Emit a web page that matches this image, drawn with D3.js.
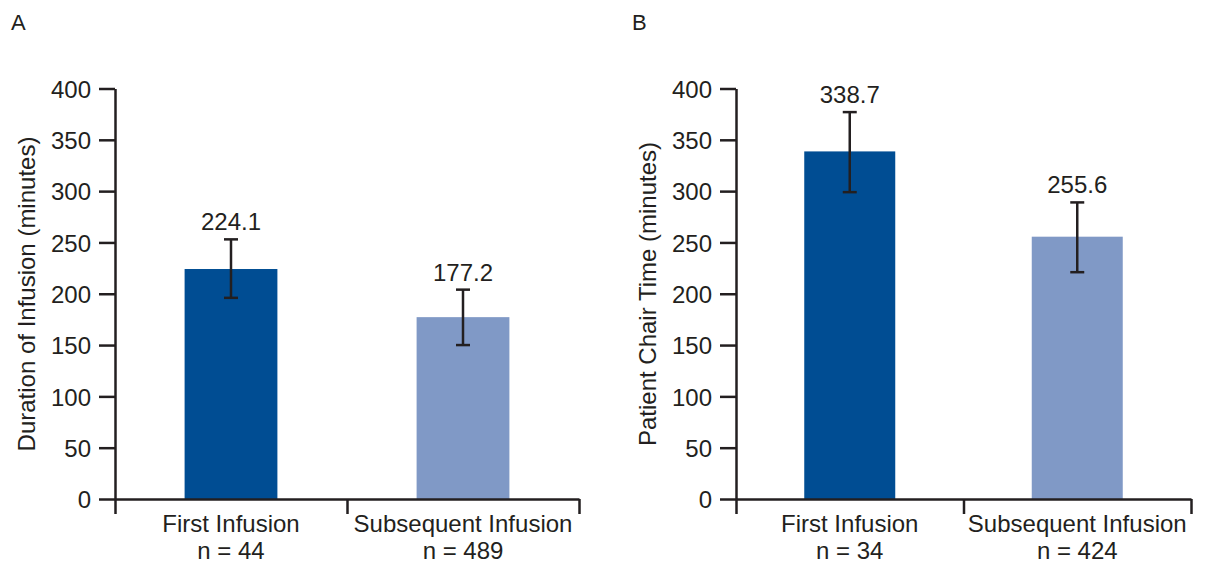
<!DOCTYPE html>
<html><head><meta charset="utf-8">
<script src="https://cdn.jsdelivr.net/npm/d3@7"></script>
<style>
body{margin:0;background:#fff;}
svg text{font-family:"Liberation Sans",Arial,Helvetica,sans-serif;fill:#231f20;}
</style></head>
<body><svg id="c" width="1211" height="563"></svg>
<script>
// Data
const categories = ["First Infusion", "Subsequent Infusion"];
const nA = ["n = 44", "n = 489"];
const nB = ["n = 34", "n = 424"];
const valuesA = [224.1, 177.2];
const errLowA = [196, 150];
const errHighA = [253, 204];
const valuesB = [338.7, 255.6];
const errLowB = [299, 221];
const errHighB = [377, 289];
const yTicks = [0, 50, 100, 150, 200, 250, 300, 350, 400];
const colors = ["#004d93", "#8099c6"];

const svg = d3.select("#c");
const axisColor = "#231f20";
const fs = "24px";

function panel(opt) {
  const g = svg.append("g");
  const y = d3.scaleLinear().domain([0, 400]).range([499, 88.5]);
  const x = d3.scaleBand().domain(categories).range([opt.x0, opt.x1]).paddingInner(0).paddingOuter(0);
  const xb = d3.scaleLinear().domain([0, categories.length]).range([opt.x0, opt.x1]);

  // bars
  g.selectAll("rect.bar").data(opt.values).join("rect")
    .attr("x", (d, i) => x(categories[i]) + x.bandwidth() * 0.3)
    .attr("width", x.bandwidth() * 0.4)
    .attr("y", d => y(d))
    .attr("height", d => y(0) - y(d))
    .attr("fill", (d, i) => colors[i]);

  // y axis
  const ya = g.append("g").attr("transform", `translate(${opt.x0},0)`)
    .call(d3.axisLeft(y).tickValues(yTicks).tickSize(16).tickPadding(8).tickSizeOuter(0));
  ya.selectAll("path,line").attr("stroke", axisColor).attr("stroke-width", 2.5);
  ya.selectAll("text").style("font-size", fs).attr("dy", "0.36em");

  // x axis
  const xa = g.append("g").attr("transform", `translate(0,${y(0)})`)
    .call(d3.axisBottom(xb).tickValues(d3.range(categories.length + 1)).tickSize(15).tickFormat("").tickSizeOuter(0));
  xa.selectAll("path,line").attr("stroke", axisColor).attr("stroke-width", 2.5);

  // error bars
  const cx = i => x(categories[i]) + x.bandwidth() / 2;
  const eb = g.append("g").attr("stroke", axisColor).attr("stroke-width", 2.5);
  opt.values.forEach((v, i) => {
    eb.append("line").attr("x1", cx(i)).attr("x2", cx(i)).attr("y1", y(opt.lo[i])).attr("y2", y(opt.hi[i]));
    eb.append("line").attr("x1", cx(i) - 7).attr("x2", cx(i) + 7).attr("y1", y(opt.lo[i])).attr("y2", y(opt.lo[i]));
    eb.append("line").attr("x1", cx(i) - 7).attr("x2", cx(i) + 7).attr("y1", y(opt.hi[i])).attr("y2", y(opt.hi[i]));
  });

  // value labels
  g.selectAll("text.val").data(opt.values).join("text").attr("class", "val")
    .attr("x", (d, i) => cx(i)).attr("y", (d, i) => y(opt.hi[i]) - 9)
    .attr("text-anchor", "middle").style("font-size", fs)
    .text(d => d.toFixed(1));

  // category labels
  categories.forEach((c, i) => {
    g.append("text").attr("x", cx(i)).attr("y", 532).attr("text-anchor", "middle")
      .style("font-size", fs).text(c);
    g.append("text").attr("x", cx(i)).attr("y", 559).attr("text-anchor", "middle")
      .style("font-size", fs).text(opt.n[i]);
  });

  // y title
  g.append("text").attr("transform", `translate(${opt.tx},294) rotate(-90)`)
    .attr("text-anchor", "middle").style("font-size", fs).text(opt.title);

  // panel letter
  g.append("text").attr("x", opt.lx).attr("y", 30).style("font-size", "22px").text(opt.letter);
}

panel({x0: 115, x1: 579, values: valuesA, lo: errLowA, hi: errHighA, n: nA,
  title: "Duration of Infusion (minutes)", tx: 35, letter: "A", lx: 11});
panel({x0: 736, x1: 1191, values: valuesB, lo: errLowB, hi: errHighB, n: nB,
  title: "Patient Chair Time (minutes)", tx: 656, letter: "B", lx: 632});
</script></body></html>
